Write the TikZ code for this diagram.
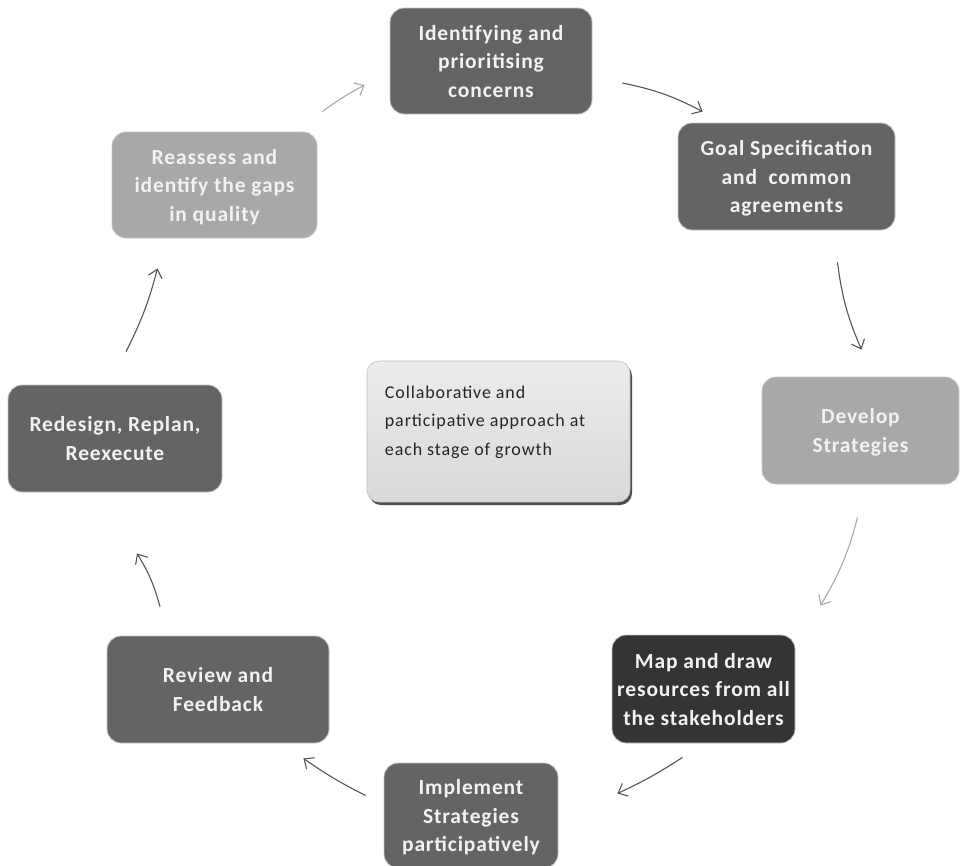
\documentclass[tikz,border=0pt]{standalone}
\usepackage{fontspec}
\setmainfont{Carlito}
\usetikzlibrary{arrows.meta,calc,shadows}
\definecolor{boxmid}{RGB}{100,100,100}
\definecolor{boxlight}{RGB}{168,168,168}
\definecolor{boxdark}{RGB}{52,52,52}
\definecolor{txtwhite}{RGB}{242,242,242}
\definecolor{arrdark}{RGB}{85,85,85}
\definecolor{arrlight}{RGB}{170,170,170}
\tikzset{
  stagebox/.style={rounded corners=14pt, draw=gray!45, line width=0.8pt, text=txtwhite,
    font=\bfseries\fontsize{21.5}{28.5}\selectfont\addfontfeature{LetterSpace=4}, align=center, inner sep=0pt,
    text depth=0pt},
  arr/.style={line width=1.1pt, -{Straight Barb[length=8pt,width=14pt,line width=1.1pt]}},
}
\begin{document}
\begin{tikzpicture}[x=1pt,y=-1pt]
\useasboundingbox (0,0) rectangle (961,865);
\fill[white] (0,0) rectangle (961,865);
% stage boxes
\node[stagebox, fill=boxmid, minimum width=202pt, minimum height=106pt] (ident) at (491,61) {Identifying and\\prioritising\\concerns};
\node[stagebox, fill=boxmid, minimum width=217pt, minimum height=107pt] (goal) at (786.5,176.5) {Goal Specification\\and\ \ common\\agreements};
\node[stagebox, fill=boxlight, minimum width=197pt, minimum height=107pt] (develop) at (860.5,430.5) {Develop\\Strategies};
\node[stagebox, fill=boxdark, minimum width=183pt, minimum height=108pt] (map) at (703.5,689) {Map and draw\\resources from all\\the stakeholders};
\node[stagebox, fill=boxmid, minimum width=174pt, minimum height=105pt] (impl) at (471,815.5) {Implement\\Strategies\\participatively};
\node[stagebox, fill=boxmid, minimum width=222pt, minimum height=107pt] (review) at (218,689.5) {Review and\\Feedback};
\node[stagebox, fill=boxmid, minimum width=214pt, minimum height=107pt] (redesign) at (115,438.5) {Redesign, Replan,\\Reexecute};
\node[stagebox, fill=boxlight, minimum width=205pt, minimum height=106pt] (reassess) at (214.5,185) {Reassess and\\identify the gaps\\in quality};
% centre box
\fill[rounded corners=12pt, black!70] (369,364) rectangle (632,505);
\node[rounded corners=12pt, top color=gray!15, bottom color=gray!30, draw=gray!50, line width=0.6pt,
  minimum width=263pt, minimum height=141pt, inner sep=0pt] (centre) at (498.5,431.5) {};
\node[anchor=north west, align=left, text=black!85, font=\fontsize{18}{28.5}\selectfont\addfontfeature{LetterSpace=5}, inner sep=0pt] (centretext) at ([shift={(18,25)}]centre.north west)
  {Collaborative and\\participative approach at\\each stage of growth};
% connectors
\draw[arr, arrdark] ([shift={(30,22)}]ident.east) to[bend left=8] ([shift={(25,-11)}]goal.north west);
\draw[arr, arrdark] ([shift={(51,32)}]goal.south) to[bend right=8] ([shift={(1,-27)}]develop.north);
\draw[arr, arrlight] ([shift={(-3,33)}]develop.south) to[bend left=8] ([shift={(25,-29)}]map.north east);
\draw[arr, arrdark] ([shift={(-21,14)}]map.south) to[bend left=4] ([shift={(59,-22)}]impl.east);
\draw[arr, arrdark] ([shift={(-18,-20)}]impl.west) to[bend left=4] ([shift={(-26,15)}]review.south east);
\draw[arr, arrdark] ([shift={(-58,-29)}]review.north) to[bend right=8] ([shift={(22,61)}]redesign.south);
\draw[arr, arrdark] ([shift={(11,-33)}]redesign.north) to[bend right=6] ([shift={(-57,30)}]reassess.south);
\draw[arr, arrlight] ([shift={(5,-20)}]reassess.north east) to[bend left=4] ([shift={(-25,24)}]ident.west);
\end{tikzpicture}
\end{document}
